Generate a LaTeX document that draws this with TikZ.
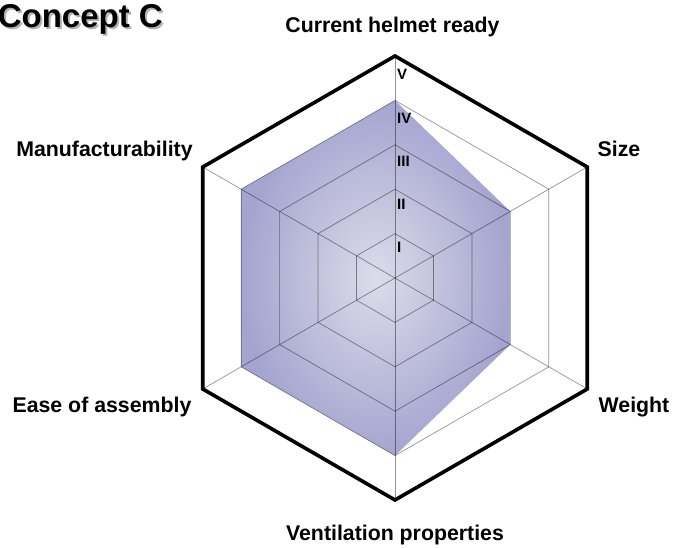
\documentclass[tikz,border=0pt]{standalone}
\usepackage{fontspec}
\setsansfont{Liberation Sans}
\usepackage{tikz}
\usetikzlibrary{positioning}

\definecolor{radarin}{RGB}{220,220,234}
\definecolor{radarout}{RGB}{164,164,208}

\begin{document}
\begin{tikzpicture}[x=1pt, y=1pt,
  every node/.style={font=\sffamily\bfseries, inner sep=0pt},
  axlbl/.style={anchor=base, font=\sffamily\bfseries\fontsize{21.3}{24}\selectfont},
  lvl/.style={anchor=base west, font=\sffamily\bfseries\fontsize{15}{17}\selectfont},
  ttlfnt/.style={anchor=base east, font=\sffamily\bfseries\fontsize{33}{38}\selectfont},
  web/.style={draw=black, draw opacity=0.42, line width=0.7pt},
  rim/.style={draw=black, line width=3.6pt}
]
\useasboundingbox (-395,-269) rectangle (286,278);

\shade[inner color=radarin, outer color=radarout]
  (90:177.6) -- (30:133.2) -- (-30:133.2) -- (-90:177.6) -- (-150:177.6) -- (150:177.6) -- cycle;

\foreach \r in {44.4,88.8,133.2,177.6}
  \draw[web] (90:\r) -- (30:\r) -- (-30:\r) -- (-90:\r) -- (-150:\r) -- (150:\r) -- cycle;
\foreach \a in {90,30,...,-210}
  \draw[web] (0,0) -- (\a:222);
\draw[rim] (90:222) -- (30:222) -- (-30:222) -- (-90:222) -- (-150:222) -- (150:222) -- cycle;

\node[lvl] (lvlv)   at (2,199) {V};
\node[lvl] (lvliv)  at (2,155) {IV};
\node[lvl] (lvliii) at (2,112) {III};
\node[lvl] (lvlii)  at (2,69)  {II};
\node[lvl] (lvli)   at (2,26)  {I};

\node[axlbl] (lblhelmet)   at (-2.5,246) {Current helmet ready};
\node[axlbl] (lblsize)     at (224,122)  {Size};
\node[axlbl] (lblweight)   at (239,-134) {Weight};
\node[axlbl] (lblvent)     at (0,-262)   {Ventilation properties};
\node[axlbl] (lblassembly) at (-293,-134) {Ease of assembly};
\node[axlbl] (lblmanuf)    at (-290.5,122) {Manufacturability};

\node[ttlfnt, text=black!30] (ttlshadow) at (-230,249) {Concept C};
\node[ttlfnt] (ttl) at (-232,251) {Concept C};
\end{tikzpicture}
\end{document}
